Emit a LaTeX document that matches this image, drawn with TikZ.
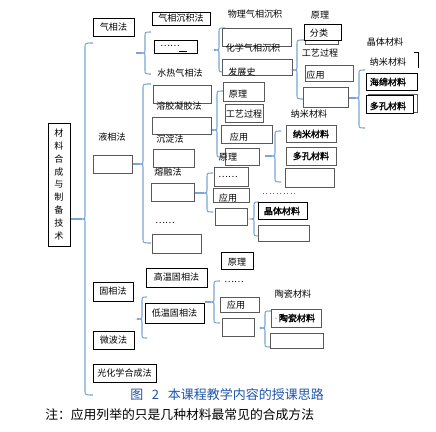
\documentclass[tikz,border=0pt]{standalone}
\usepackage{fontspec}
\setmainfont{Noto Sans CJK SC}
\newfontfamily\cjkb[FakeBold=2]{Noto Sans CJK SC}
\usetikzlibrary{fit}
\definecolor{brkblue}{RGB}{120,165,215}
\definecolor{capblue}{RGB}{30,85,170}
\tikzset{
  bk/.style={draw=black, line width=0.75pt, inner sep=0pt, fill=white},
  gy/.style={draw=black!65, line width=0.75pt, inner sep=0pt, fill=white},
  t/.style={font=\fontsize{6.8}{8}\selectfont, inner sep=0pt},
  tb/.style={font=\fontsize{6.8}{8}\selectfont\cjkb, inner sep=0pt},
  brk/.style={draw=brkblue, line width=0.8pt},
}
\newcommand\bx[6]{\node[#6, fit={(#2,#3)(#4,#5)}] (#1) {};}
% name, x, ytop, ybot, ymid, curl
\newcommand\brc[6]{%
  \draw[brk] (#2+#6,#3) .. controls (#2,#3) .. (#2,#3+4) -- (#2,#5-3)
    .. controls (#2,#5) .. (#2-3,#5) .. controls (#2,#5) .. (#2,#5+3)
    -- (#2,#4-4) .. controls (#2,#4) .. (#2+#6,#4);
  \coordinate (#1) at (#2-3,#5);}
\begin{document}
\begin{tikzpicture}[x=0.75pt,y=-0.75pt]
\useasboundingbox (0,0) rectangle (436,432);
% main
\bx{M}{48}{123}{70}{246}{bk}
\node[t, align=center, font=\fontsize{6.8}{9.6}\selectfont] (Mt) at (59,184.5) {材\\料\\合\\成\\与\\制\\备\\技\\术};
\brc{mb}{85}{43}{395}{219}{8}
\draw[brk] (M.east |- mb) -- (mb);
% gas phase
\bx{gas}{93}{18}{134}{36}{bk}
\node[t] (gast) at (gas.center) {气相法};
\brc{gb}{145}{32}{74}{53}{6}
\coordinate (gtail) at (136,53);
\draw[brk] (gtail) -- (gb);
\bx{gcj}{152}{12}{210}{25}{bk}
\node[t] (gcjt) at (gcj.center) {气相沉积法};
\bx{gdot}{154}{40}{197}{53}{bk}
\node[t] (gdott) at (170,46) {……};
\draw[line width=0.5pt] (179,51) -- (187,51);
\node[t] (srqx) at (180,73) {水热气相法};
\brc{pb}{219}{28}{72}{50}{6}
\coordinate (ptail) at (214,50);
\draw[brk] (ptail) -- (pb);
\bx{wl}{222}{28}{291}{46}{gy}
\node[t] (wlt) at (255,14) {物理气相沉积};
\node[t] (hxt) at (253,48) {化学气相沉积};
\bx{fzs}{222}{59}{292}{75}{gy}
\node[t] (fzst) at (242,72) {发展史};
\node[t] (yl1) at (320,15) {原理};
\bx{flb}{305}{27}{338}{44}{gy}
\bx{fl}{304}{24}{341}{40}{bk}
\node[t] (flt) at (319,33) {分类};
\brc{rb}{297}{40}{99}{70}{7}
\draw[brk] (fzs.east |- rb) -- (rb);
\node[t] (gy1) at (320,53) {工艺过程};
\bx{yy1}{305}{65}{353}{81}{gy}
\node[t] (yy1t) at (315.5,75) {应用};
\bx{e1}{303}{87}{348}{107}{gy}
\node[t] (jt1) at (385,42) {晶体材料};
\node[t] (nm1) at (388,62) {纳米材料};
\draw[line width=0.75pt] (414,52) -- (418,52) -- (418,68);
\brc{cb}{359}{70}{128}{98}{6}
\draw[brk] (e1.east |- cb) -- (cb);
\bx{hm}{366}{73}{417}{90}{bk}
\node[tb] (hmt) at (388,82) {海绵材料};
\bx{dkb}{368}{94}{417}{112}{gy}
\bx{dk}{366}{95}{413}{113}{bk}
\node[tb] (dkt) at (388,106) {多孔材料};
\node[t] (nm2) at (309,114) {纳米材料};
% liquid phase
\node[t] (yxf) at (112,137) {液相法};
\bx{liq}{93}{155}{132}{173}{gy}
\brc{lb}{143}{84}{243}{164}{8}
\draw[brk] (liq.east |- lb) -- (lb);
\bx{l1}{153}{85}{211}{103}{gy}
\node[t] (rjt) at (179,106) {溶胶凝胶法};
\bx{l2}{152}{117}{211}{134}{gy}
\node[t] (cdt) at (170,139) {沉淀法};
\bx{l3}{153}{149}{194}{167}{gy}
\node[t] (rrt) at (168,172) {熔融法};
\bx{l4}{151}{183}{194}{201}{gy}
\node[t] (ldt) at (165,223) {……};
\bx{l5}{152}{234}{201}{253}{gy}
\brc{sb}{217}{91}{157}{130}{6}
\draw[brk] (l2.east |- sb) -- (sb);
\bx{yl2}{223}{82}{264}{101}{gy}
\node[t] (yl2t) at (238,94) {原理};
\bx{gy2}{225}{104}{263}{122}{gy}
\node[t] (gy2t) at (244,114) {工艺过程};
\bx{yy2}{221}{125}{272}{143}{gy}
\node[t] (yy2t) at (239,137) {应用};
\bx{yl3}{225}{148}{259}{165}{gy}
\node[t] (yl3t) at (228,157) {原理};
\brc{nb}{275}{131}{182}{156}{6}
\coordinate (ntail) at (265,156);
\draw[brk] (ntail) -- (nb);
\bx{n1}{286}{125}{336}{142}{gy}
\node[tb] (n1t) at (311,134) {纳米材料};
\bx{n2}{286}{147}{336}{165}{gy}
\node[tb] (n2t) at (311,156) {多孔材料};
\bx{n3}{285}{168}{334}{187}{gy}
\brc{qb}{207}{173}{212}{193}{6}
\draw[brk] (l4.east |- qb) -- (qb);
\bx{q1}{214}{167}{248}{186}{gy}
\node[t] (q1t) at (228,177) {……};
\bx{q2}{213}{188}{249}{202}{gy}
\node[t] (q2t) at (228,198) {应用};
\bx{q3}{215}{208}{247}{225}{gy}
\coordinate (dl1) at (263,193);
\coordinate (dl2) at (297,193);
\draw[black!60, line width=0.6pt, dotted] (dl1) -- (dl2);
\brc{jb}{254}{202}{236}{219}{5}
\bx{j1}{258}{202}{307}{219}{bk}
\node[tb] (j1t) at (282,211) {晶体材料};
\bx{j2}{258}{225}{309}{241}{gy}
% solid phase
\bx{sol}{93}{282}{133}{301}{bk}
\node[t] (solt) at (sol.center) {固相法};
\brc{tb1}{142}{297}{338}{319}{5}
\coordinate (ttail) at (137,319);
\draw[brk] (ttail) -- (tb1);
\bx{mw}{93}{331}{134}{349}{bk}
\node[t] (mwt) at (mw.center) {微波法};
\bx{gh}{93}{364}{156}{382}{bk}
\node[t] (ght) at (gh.center) {光化学合成法};
\bx{gw}{146}{268}{207}{287}{bk}
\node[t] (gwt) at (gw.center) {高温固相法};
\bx{dw}{145}{303}{204}{323}{bk}
\node[t] (dwt) at (dw.center) {低温固相法};
\brc{ub}{214}{281}{323}{302}{6}
\draw[brk] (dw.east |- ub) -- (ub);
\bx{yl4}{221}{252}{253}{269}{bk}
\node[t] (yl4t) at (237,262) {原理};
\node[t] (sdt) at (234,282) {……};
\bx{yy4}{220}{297}{259}{312}{gy}
\node[t] (yy4t) at (236,305) {应用};
\bx{e4}{222}{318}{254}{336}{gy}
\node[t] (tc1) at (293,294) {陶瓷材料};
\brc{vb}{265}{311}{347}{328}{6}
\coordinate (vtail) at (260,328);
\draw[brk] (vtail) -- (vb);
\bx{tc}{271}{309}{321}{327}{gy}
\node[tb] (tct) at (297,318) {陶瓷材料};
\fill (276,318) circle (0.5);
\bx{tce}{270}{333}{323}{348}{gy}
% caption and note
\node[inner sep=0pt, text=capblue, font=\fontsize{9.75}{11}\selectfont, anchor=west] (cap) at (130,395) {图\hspace{6.5pt}2\hspace{6.5pt}本课程教学内容的授课思路};
\node[inner sep=0pt, font=\fontsize{9.6}{11}\selectfont, anchor=west] (note) at (45,415) {注：应用列举的只是几种材料最常见的合成方法};
\end{tikzpicture}
\end{document}
